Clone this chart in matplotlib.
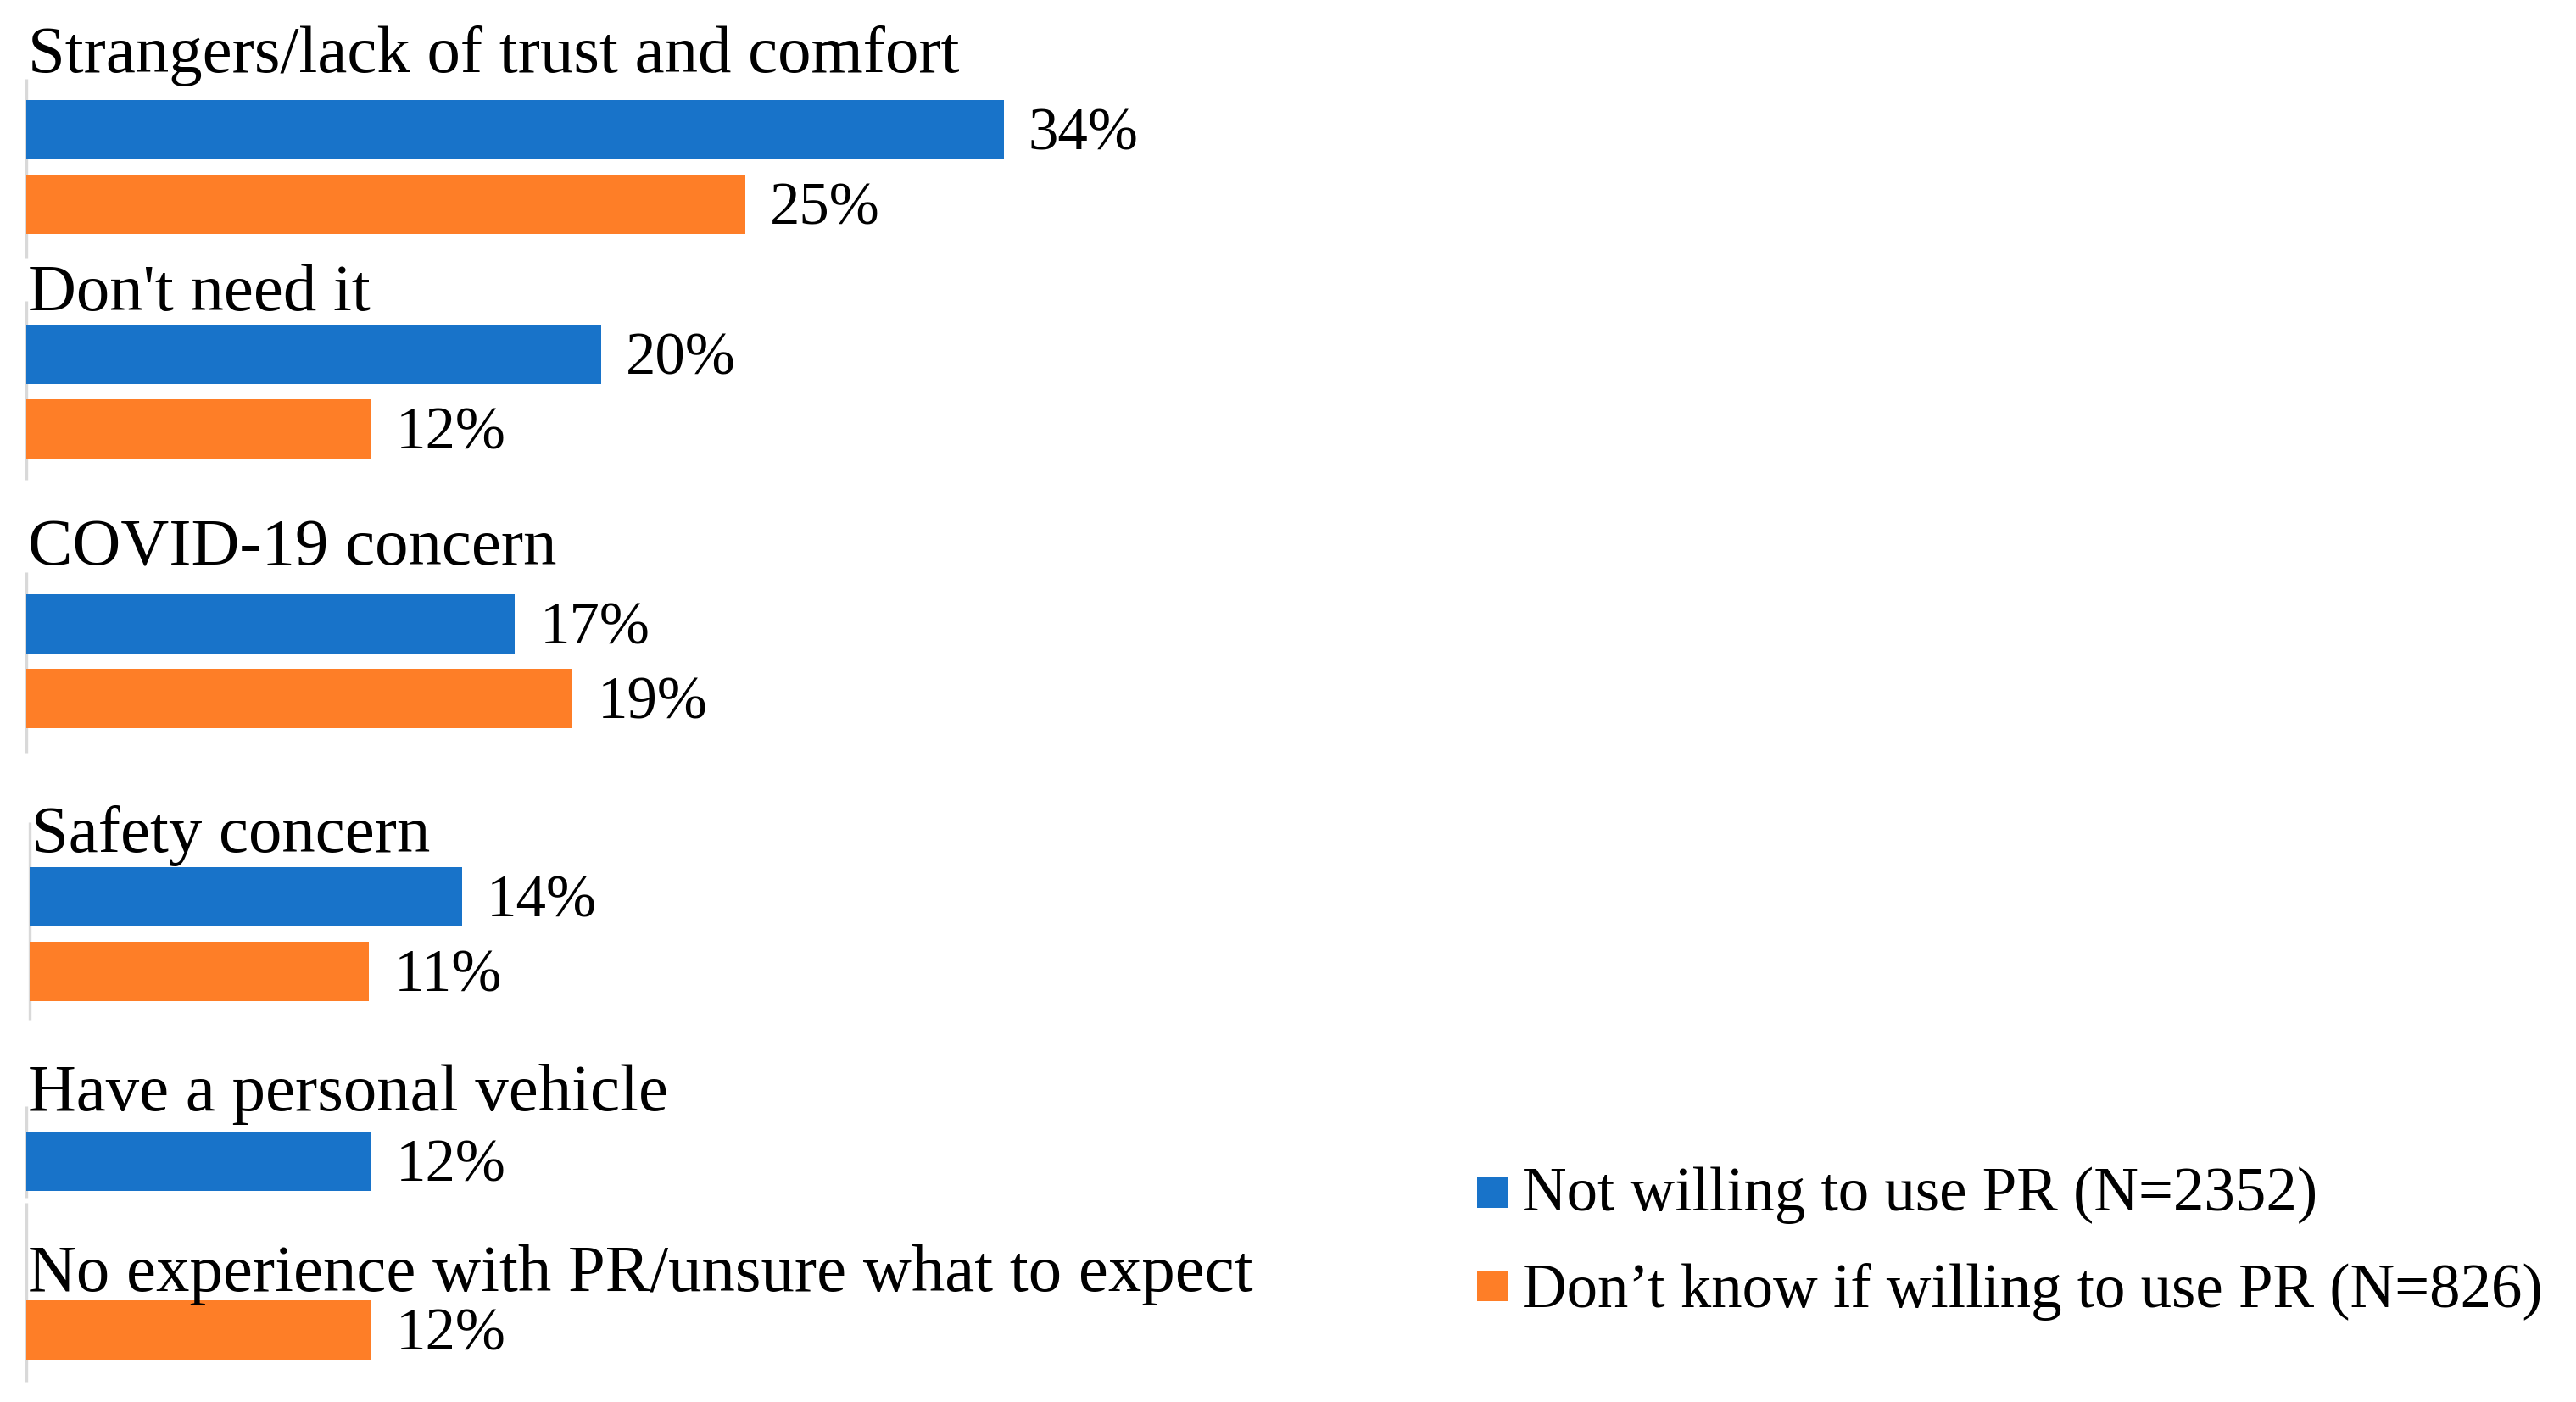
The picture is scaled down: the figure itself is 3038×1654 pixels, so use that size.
import matplotlib
matplotlib.use('Agg')
import matplotlib.pyplot as plt
from matplotlib.patches import Rectangle

# ---------------- data ----------------
categories = [
    "Strangers/lack of trust and comfort",
    "Don't need it",
    "COVID-19 concern",
    "Safety concern",
    "Have a personal vehicle",
    "No experience with PR/unsure what to expect",
]
not_willing = [34, 20, 17, 14, 12, None]
dont_know = [25, 12, 19, 11, None, 12]
series_names = ["Not willing to use PR (N=2352)",
                "Don\u2019t know if willing to use PR (N=826)"]
series_colors = ["#1873C9", "#FE7E27"]

# ---------------- layout (pixels) ----------------
W, H, DPI = 3038, 1654, 100
group_px0 = [31, 31, 31, 35, 31, 31]                 # x pixel of 0 % per panel
group_px_per = [33.9, 33.9, 33.9, 36.4, 33.9, 33.9]  # pixels per % per panel
slot1 = [153, 418, 736, 1058, 1370, 1569]   # centre of first bar in each group
slot_gap = 88
bar_h = 70
label_base = [85, 366, 667, 1005, 1310, 1523]
spine_segs = [(93, 304), (355, 566), (675, 888), (970, 1203), (1305, 1413), (1419, 1630)]

plt.rcParams['font.family'] = ['Liberation Serif', 'DejaVu Serif']

fig = plt.figure(figsize=(W / DPI, H / DPI), dpi=DPI)
fig.patch.set_facecolor('white')

series = [not_willing, dont_know]
for g, cat in enumerate(categories):
    ax = fig.add_axes([0, 0, 1, 1])
    ax.patch.set_alpha(0)
    px0, pxp = group_px0[g], group_px_per[g]
    ax.set_xlim(-px0 / pxp, (W - px0) / pxp)
    ax.set_ylim(H, 0)
    ax.axis('off')

    ax.plot([0, 0], spine_segs[g], color='#D9D9D9', lw=2.4,
            solid_capstyle='butt', zorder=1)
    ax.text((33 - 31) / pxp, label_base[g], cat, fontsize=56.7, va='baseline',
            ha='left', color='black', zorder=3)
    slot = 0
    for s, vals in enumerate(series):
        v = vals[g]
        if v is None:
            continue
        y = slot1[g] + slot * slot_gap
        ax.barh(y, v, height=bar_h, color=series_colors[s], zorder=2)
        ax.annotate(f"{v}%", xy=(v, y), xytext=(21, -4), textcoords='offset points',
                    va='center', ha='left', fontsize=51, color='black')
        slot += 1

# ---------------- legend ----------------
sq = 36
leg_x = 1742
leg_sq_top = [1389, 1499]
leg_text_x = 1795
leg_base = [1428, 1542]
for i, name in enumerate(series_names):
    fig.patches.append(Rectangle((leg_x / W, 1 - (leg_sq_top[i] + sq) / H), sq / W, sq / H,
                                 transform=fig.transFigure, facecolor=series_colors[i],
                                 edgecolor='none'))
    fig.text(leg_text_x / W, 1 - leg_base[i] / H, name, fontsize=52.5, va='baseline',
             ha='left', color='black')

fig.savefig('out.png', dpi=DPI, facecolor='white')
